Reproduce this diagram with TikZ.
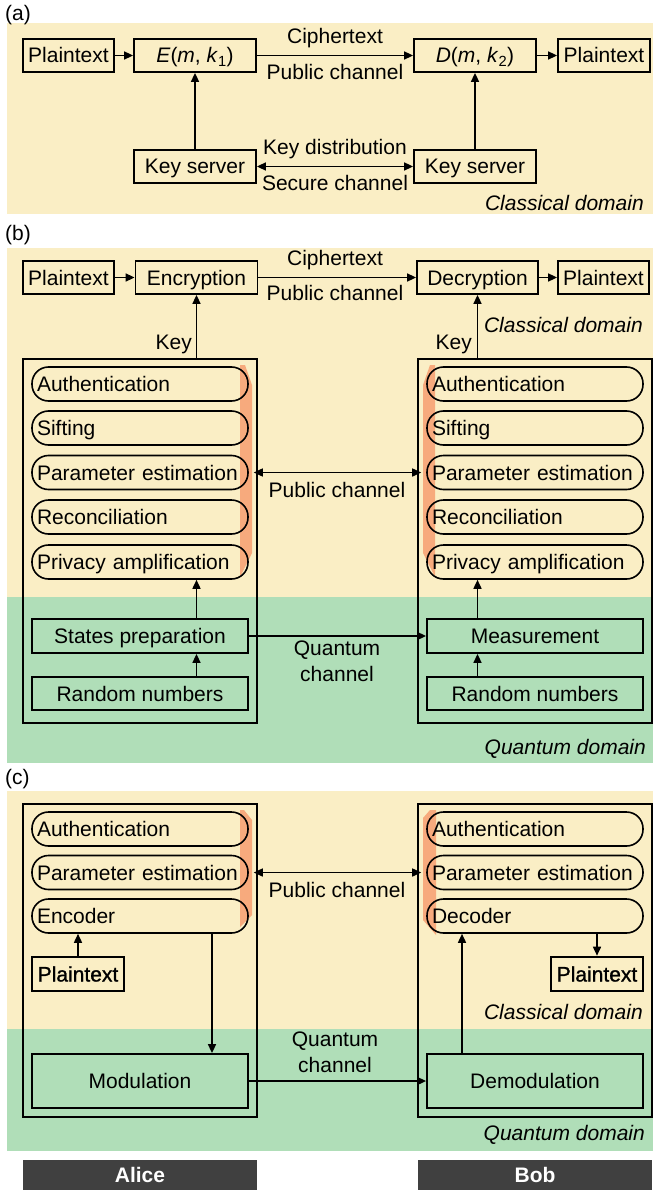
\documentclass[tikz,border=0pt]{standalone}
\usepackage{fontspec}
\setmainfont{Liberation Sans}
\newfontfamily\heavyfont{Liberation Sans}[FakeBold=1.2]
\usetikzlibrary{arrows.meta}

\definecolor{classbg}{RGB}{250,238,197}
\definecolor{quantbg}{RGB}{176,222,184}
\definecolor{stripcol}{RGB}{247,170,125}
\definecolor{barcol}{RGB}{64,64,64}

\newlength{\du}
\setlength{\du}{1pt}

\tikzset{
  every node/.style={font=\fontsize{21}{26}\selectfont, inner sep=0pt},
  blk/.style={draw, line width=1.8pt, minimum height=33\du, text height=15pt, text depth=0pt},
  heavyblk/.style={blk, line width=2.6pt, minimum height=34\du, font=\heavyfont\fontsize{21}{26}\selectfont},
  pill/.style={draw, line width=1.6pt, rounded corners=16.5\du, minimum height=34\du,
    text width=206\du, align=left, inner xsep=5\du, text height=15pt, text depth=0pt},
  frame/.style={draw, line width=1.8pt, minimum width=234\du},
  lbl/.style={text height=15pt, text depth=0pt},
  dom/.style={lbl, anchor=east, font=\fontsize{21}{26}\selectfont\itshape},
  tag/.style={lbl, anchor=west},
  arr/.style={-{Triangle[length=9pt,width=8pt]}, line width=1.6pt},
  darr/.style={{Triangle[length=9pt,width=8pt]}-{Triangle[length=9pt,width=8pt]}, line width=1.6pt},
  bar/.style={fill=barcol, text=white, font=\fontsize{21}{26}\selectfont\bfseries,
    minimum width=234\du, minimum height=30\du, text height=15pt, text depth=0pt}
}

\begin{document}
\begin{tikzpicture}
\pgftransformyscale{-1.000000}
\useasboundingbox (0\du,0\du) rectangle (654\du,1190\du);

% (a) classical
\fill[classbg] (7\du,23\du) rectangle (653\du,214\du);
\node[tag] (tagA) at (5\du,13\du) {(a)};
\node[blk, minimum width=91\du] (plainA) at (68.5\du,55.5\du) {Plaintext};
\node[blk, minimum width=122\du] (encA) at (195\du,55.5\du) {\textit{E}(\textit{m}, \textit{k}\textsubscript{1})};
\node[blk, minimum width=122\du] (decA) at (475\du,55.5\du) {\textit{D}(\textit{m}, \textit{k}\textsubscript{2})};
\node[blk, minimum width=92\du] (plainA2) at (604\du,55.5\du) {Plaintext};
\node[blk, minimum width=122\du] (ksA) at (195\du,166.5\du) {Key server};
\node[blk, minimum width=122\du] (ksA2) at (475\du,166.5\du) {Key server};
\draw[arr] (plainA) -- (encA);
\draw[arr] (encA) -- (decA);
\draw[arr] (decA) -- (plainA2);
\draw[arr] (ksA) -- (encA);
\draw[arr] (ksA2) -- (decA);
\draw[darr] (ksA) -- (ksA2);
\node[lbl] (ctA) at (335\du,36\du) {Ciphertext};
\node[lbl] (pcA) at (335\du,72\du) {Public channel};
\node[lbl] (kdA) at (335\du,147\du) {Key distribution};
\node[lbl] (scA) at (335\du,183\du) {Secure channel};
\node[dom] (cdA) at (644\du,203\du) {Classical domain};

% (b) QKD
\fill[classbg] (7\du,248\du) rectangle (653\du,597\du);
\fill[quantbg] (7\du,597\du) rectangle (653\du,763\du);
\node[tag] (tagB) at (5\du,233\du) {(b)};
\fill[stripcol] (240\du,365\du) -- (245\du,365\du) -- (252\du,385\du) -- (252\du,553\du) -- (240\du,577\du) -- cycle;
\fill[stripcol] (435\du,365\du) -- (430\du,365\du) -- (423\du,385\du) -- (423\du,553\du) -- (435\du,577\du) -- cycle;
\node[frame, minimum height=364\du] (aliceB) at (140\du,541\du) {};
\node[frame, minimum height=364\du] (bobB) at (535\du,541\du) {};
\node[blk, minimum width=91\du] (plainB) at (68.5\du,277.5\du) {Plaintext};
\node[blk, minimum width=122\du] (encB) at (196.5\du,277.5\du) {Encryption};
\node[blk, minimum width=121\du] (decB) at (477.5\du,277.5\du) {Decryption};
\node[blk, minimum width=91\du] (plainB2) at (603.5\du,277.5\du) {Plaintext};
\node[pill] (authB) at (140\du,384\du) {Authentication};
\node[pill] (siftB) at (140\du,428\du) {Sifting};
\node[pill] (paramB) at (140\du,472.5\du) {Parameter estimation};
\node[pill] (recB) at (140\du,517\du) {Reconciliation};
\node[pill] (privB) at (140\du,562\du) {Privacy amplification};
\node[pill] (authB2) at (535\du,384\du) {Authentication};
\node[pill] (siftB2) at (535\du,428\du) {Sifting};
\node[pill] (paramB2) at (535\du,472.5\du) {Parameter estimation};
\node[pill] (recB2) at (535\du,517\du) {Reconciliation};
\node[pill] (privB2) at (535\du,562\du) {Privacy amplification};
\node[blk, minimum width=216\du, minimum height=34\du] (statesB) at (140\du,636\du) {States preparation};
\node[blk, minimum width=216\du] (randB) at (140\du,693.5\du) {Random numbers};
\node[blk, minimum width=216\du, minimum height=34\du] (measB) at (535\du,636\du) {Measurement};
\node[blk, minimum width=216\du] (randB2) at (535\du,693.5\du) {Random numbers};
\draw[arr] (plainB) -- (encB);
\draw[arr] (encB) -- (decB);
\draw[arr] (decB) -- (plainB2);
\draw[arr] (aliceB.north -| encB) -- (encB);
\draw[arr] (bobB.north -| decB) -- (decB);
\draw[arr] (statesB.north -| encB) -- (privB.south -| encB);
\draw[arr] (randB.north -| encB) -- (statesB.south -| encB);
\draw[arr] (measB.north -| decB) -- (privB2.south -| decB);
\draw[arr] (randB2.north -| decB) -- (measB.south -| decB);
\draw[darr] ([xshift=5\du]paramB.east) -- ([xshift=-5\du]paramB2.west);
\draw[arr] (statesB) -- (measB);
\node[lbl] (ctB) at (335\du,258\du) {Ciphertext};
\node[lbl] (pcB) at (335\du,293\du) {Public channel};
\node[lbl, anchor=east] (keyB) at (192\du,342\du) {Key};
\node[lbl, anchor=east] (keyB2) at (472\du,342\du) {Key};
\node[dom] (cdB) at (643\du,325\du) {Classical domain};
\node[lbl] (pubB) at (337\du,490\du) {Public channel};
\node[align=center] (qchB) at (337\du,661\du) {Quantum\\channel};
\node[dom] (qdB) at (646\du,747\du) {Quantum domain};

% (c) CV-QSDC
\fill[classbg] (7\du,791\du) rectangle (653\du,1029\du);
\fill[quantbg] (7\du,1029\du) rectangle (653\du,1151\du);
\node[tag] (tagC) at (5\du,777\du) {(c)};
\fill[stripcol] (240\du,810\du) -- (244\du,810\du) -- (252\du,820\du) -- (252\du,915\du) -- (240\du,927\du) -- cycle;
\fill[stripcol] (436\du,810\du) -- (430\du,810\du) -- (423\du,818\du) -- (423\du,920\du) -- (436\du,935\du) -- cycle;
\node[frame, minimum height=313\du] (aliceC) at (140\du,960.5\du) {};
\node[frame, minimum height=313\du] (bobC) at (535\du,960.5\du) {};
\node[pill] (authC) at (140\du,829\du) {Authentication};
\node[pill] (paramC) at (140\du,872.5\du) {Parameter estimation};
\node[pill] (encC) at (140\du,916\du) {Encoder};
\node[pill] (authC2) at (535\du,829\du) {Authentication};
\node[pill] (paramC2) at (535\du,872.5\du) {Parameter estimation};
\node[pill] (decC) at (535\du,916\du) {Decoder};
\node[heavyblk, minimum width=92\du] (plainC) at (78\du,974\du) {Plaintext};
\node[heavyblk, minimum width=92\du] (plainC2) at (597\du,974\du) {Plaintext};
\node[blk, minimum width=216\du, minimum height=54\du] (modC) at (140\du,1081\du) {Modulation};
\node[blk, minimum width=216\du, minimum height=54\du] (demodC) at (535\du,1081\du) {Demodulation};
\draw[arr] (plainC) -- (plainC |- encC.south);
\draw[arr] ([xshift=72\du]encC.south) -- ([xshift=72\du]modC.north);
\draw[arr] ([xshift=-73\du]demodC.north) -- ([xshift=-73\du]decC.south);
\draw[arr] (decC.south -| plainC2) -- (plainC2);
\draw[darr] ([xshift=5\du]paramC.east) -- ([xshift=-5\du]paramC2.west);
\draw[arr] (modC) -- (demodC);
\node[lbl] (pubC) at (337\du,890\du) {Public channel};
\node[align=center] (qchC) at (335\du,1052\du) {Quantum\\channel};
\node[dom] (cdC) at (643\du,1012\du) {Classical domain};
\node[dom] (qdC) at (645\du,1133\du) {Quantum domain};

\node[bar] (alice) at (140\du,1175\du) {Alice};
\node[bar] (bob) at (535\du,1175\du) {Bob};
\end{tikzpicture}
\end{document}
